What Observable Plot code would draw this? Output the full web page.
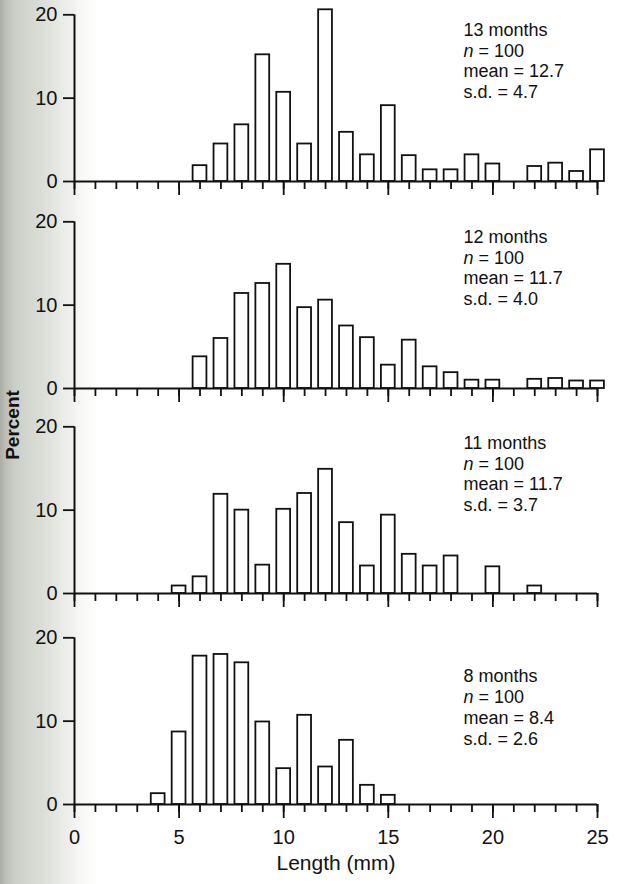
<!DOCTYPE html>
<html>
<head>
<meta charset="utf-8">
<script src="https://cdn.jsdelivr.net/npm/d3@7"></script>
<script src="https://cdn.jsdelivr.net/npm/@observablehq/plot@0.6"></script>
<style>
  html, body { margin: 0; padding: 0; }
  body {
    width: 618px; height: 884px; position: relative; overflow: hidden;
    background: linear-gradient(to right, #a9ada6 0px, #bcc0b9 6px, #cdd0c9 16px, #dadcd6 40px, #e9ebe7 62px, #f8f8f6 82px, #ffffff 100px);
    font-family: "Liberation Sans", Arial, Helvetica, sans-serif;
    color: #111;
  }
  .panel { position: absolute; left: 0; }
  #ylabel {
    position: absolute; left: 12px; top: 425px;
    transform: translate(-50%, -50%) rotate(-90deg);
    font-weight: bold; font-size: 19px; line-height: 1; white-space: nowrap;
  }
</style>
</head>
<body>
<div id="ylabel">Percent</div>
<script>
// ---- data ----
const panelLabels = ["13 months", "12 months", "11 months", "8 months"];
const sampleSizes = [100, 100, 100, 100];
const means = ["12.7", "11.7", "11.7", "8.4"];
const sds = ["4.7", "4.0", "3.7", "2.6"];

const len13 = [6, 7, 8, 9, 10, 11, 12, 13, 14, 15, 16, 17, 18, 19, 20, 22, 23, 24, 25];
const pct13 = [1.9, 4.5, 6.8, 15.2, 10.7, 4.5, 20.6, 5.9, 3.2, 9.1, 3.1, 1.4, 1.4, 3.2, 2.1, 1.8, 2.2, 1.2, 3.8];

const len12 = [6, 7, 8, 9, 10, 11, 12, 13, 14, 15, 16, 17, 18, 19, 20, 22, 23, 24, 25];
const pct12 = [3.8, 6.0, 11.4, 12.6, 14.9, 9.7, 10.6, 7.5, 6.1, 2.8, 5.8, 2.6, 1.9, 1.0, 1.0, 1.1, 1.2, 0.9, 0.9];

const len11 = [5, 6, 7, 8, 9, 10, 11, 12, 13, 14, 15, 16, 17, 18, 20, 22];
const pct11 = [0.9, 2.0, 11.9, 10.0, 3.4, 10.1, 12.0, 14.9, 8.5, 3.3, 9.4, 4.7, 3.3, 4.5, 3.2, 0.9];

const len8 = [4, 5, 6, 7, 8, 9, 10, 11, 12, 13, 14, 15];
const pct8 = [1.3, 8.7, 17.8, 18.0, 17.0, 9.9, 4.3, 10.7, 4.5, 7.7, 2.3, 1.1];

const xMinorTicks = d3.range(0, 26);
const xMajorTicks = [0, 5, 10, 15, 20, 25];
const yTicks = [0, 10, 20];
const xTitle = "Length (mm)";

// ---- layout / style ----
const panelTops = [1, 208, 413, 624];
const noteOffsets = [6, 6, 7, 29.5];
const ink = "#111";
const font = "'Liberation Sans', Arial, Helvetica, sans-serif";

const series = [[len13, pct13], [len12, pct12], [len11, pct11], [len8, pct8]];

series.forEach(([lens, pcts], i) => {
  const isBottom = i === series.length - 1;
  const data = lens.map((x, j) => ({x, p: pcts[j]}));
  const note = `${panelLabels[i]}\nn = ${sampleSizes[i]}\nmean = ${means[i]}\ns.d. = ${sds[i]}`;
  const marks = [
    Plot.rect(data, {x1: d => d.x - 0.33, x2: d => d.x + 0.33, y1: 0, y2: "p",
      fill: "white", stroke: ink, strokeWidth: 1.8}),
    Plot.ruleY([0], {stroke: ink, strokeWidth: 2}),
    Plot.ruleX([0], {stroke: ink, strokeWidth: 2}),
    Plot.axisX(xMinorTicks, {tickSize: 8, tickFormat: () => "", label: null, stroke: ink, strokeWidth: 1.8}),
    Plot.axisX(xMajorTicks, {tickSize: 14, tickPadding: 11, fontSize: 20, label: null,
      tickFormat: isBottom ? (d => String(d)) : (() => ""), stroke: ink, strokeWidth: 1.8}),
    Plot.axisY(yTicks, {tickSize: 11, tickPadding: 6, fontSize: 20, label: null, stroke: ink, strokeWidth: 1.8}),
    Plot.text([note], {frameAnchor: "top-right", textAnchor: "start", lineAnchor: "top",
      dx: -134, dy: noteOffsets[i], fontSize: 18, lineHeight: 1.16, fill: ink})
  ];
  if (isBottom) {
    marks.push(Plot.text([xTitle], {frameAnchor: "bottom", lineAnchor: "bottom", dy: 65, fontSize: 21, fill: ink}));
  }
  const svg = Plot.plot({
    width: 618,
    height: isBottom ? 260 : 208,
    marginLeft: 74, marginRight: 21, marginTop: 13.3,
    marginBottom: isBottom ? 80 : 28,
    style: {fontFamily: font, fontSize: "20px", color: ink, background: "transparent", overflow: "visible"},
    x: {domain: [0, 25]},
    y: {domain: [0, 20]},
    marks
  });
  // italic "n"
  d3.select(svg).selectAll("tspan, text").each(function() {
    if (this.childElementCount === 0 && this.textContent.startsWith("n = ")) {
      const rest = this.textContent.slice(1);
      this.textContent = "";
      d3.select(this).append("tspan").attr("font-style", "italic").text("n");
      d3.select(this).append("tspan").text(rest);
    }
  });
  const div = document.createElement("div");
  div.className = "panel";
  div.style.top = panelTops[i] + "px";
  div.appendChild(svg);
  document.body.appendChild(div);
});
</script>
</body>
</html>
